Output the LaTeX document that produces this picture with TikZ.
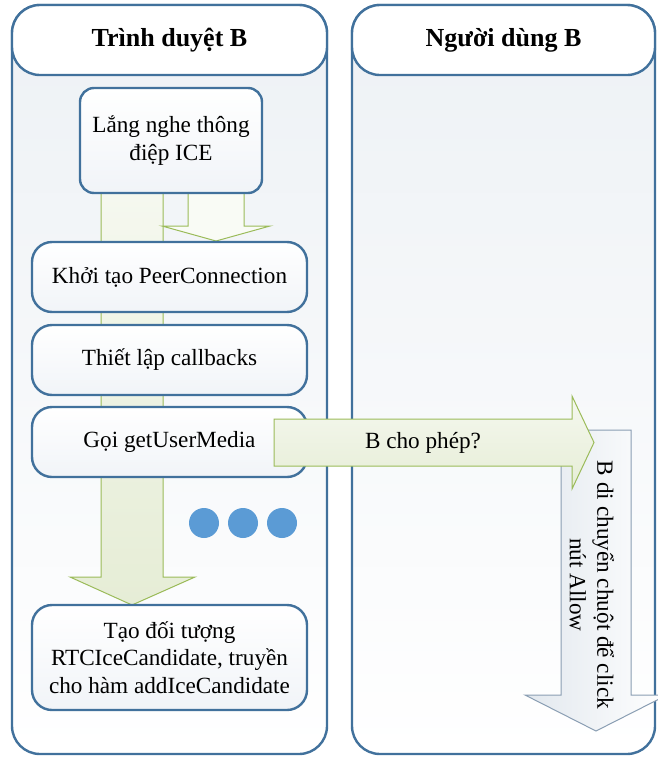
\documentclass[tikz,border=0pt]{standalone}
\usepackage{fontspec}
\setmainfont{Liberation Serif}
\usetikzlibrary{calc}

\definecolor{laneline}{HTML}{41719C}
\definecolor{lanetop}{HTML}{EDF1F5}
\definecolor{boxfill}{HTML}{F1F4F8}
\definecolor{greenline}{HTML}{9BBB59}
\definecolor{greenlight}{HTML}{F5F8EF}
\definecolor{greendark}{HTML}{E6EDD6}
\definecolor{greyline}{HTML}{8A9EB3}
\definecolor{greyfill}{HTML}{E2E8EE}
\definecolor{dotblue}{HTML}{5B9BD5}

\tikzset{
  lane/.style={draw=laneline, line width=2.4pt, rounded corners=28pt,
    top color=lanetop, bottom color=white, inner sep=0pt},
  header/.style={draw=laneline, line width=2.4pt, rounded corners=28pt,
    fill=white, inner sep=0pt, font=\fontsize{26}{31}\selectfont\bfseries},
  stepbox/.style={draw=laneline, line width=2.4pt, rounded corners=20pt,
    top color=white, bottom color=boxfill, align=center, inner sep=0pt,
    font=\fontsize{23.2}{27.5}\selectfont},
  greenarrow/.style={draw=greenline, line width=1pt, top color=greenlight,
    bottom color=greendark},
  palearrow/.style={draw=greenline, line width=1pt, fill=greenlight!60!white},
  greyarrow/.style={draw=greyline, line width=1pt, left color=greyfill,
    right color=white},
  dot/.style={circle, fill=dotblue, minimum size=30pt, inner sep=0pt},
  label/.style={font=\fontsize{23.2}{27.5}\selectfont, align=center, inner sep=0pt}
}

\begin{document}
\begin{tikzpicture}[x=1pt, y=-1pt]
\useasboundingbox (0,0) rectangle (657,758);

% swimlanes
\node[lane, minimum width=315pt, minimum height=749pt] (laneA) at (169.5,379.5) {};
\node[lane, minimum width=303pt, minimum height=749pt] (laneB) at (503.5,379.5) {};
\node[header, minimum width=315pt, minimum height=70pt] (headA) at (169.5,40) {Trình duyệt B};
\node[header, minimum width=303pt, minimum height=70pt] (headB) at (503.5,40) {Người dùng B};

% long block arrow down the browser lane
\draw[greenarrow] (101,193) -- (101,577) -- (70,577) -- (132,605) -- (195,577)
  -- (163,577) -- (163,193) -- cycle;
% short block arrow into the first step
\draw[palearrow] (188,193) -- (188,226) -- (162,226) -- (216,241) -- (270,226)
  -- (244,226) -- (244,193) -- cycle;

% steps
\node[stepbox, rounded corners=14pt, minimum width=182pt, minimum height=105pt]
  (listen) at (171,140.5) {Lắng nghe thông\\điệp ICE};
\node[stepbox, minimum width=275pt, minimum height=70pt] (init) at (169.5,277) {Khởi tạo PeerConnection};
\node[stepbox, minimum width=275pt, minimum height=70pt] (setup) at (169.5,360) {Thiết lập callbacks};
\node[stepbox, minimum width=275pt, minimum height=70pt] (media) at (169.5,442) {Gọi getUserMedia};
\node[stepbox, minimum width=275pt, minimum height=105pt] (create) at (169.5,657.5)
  {Tạo đối tượng\\RTCIceCandidate, truyền\\cho hàm addIceCandidate};

% ellipsis dots
\node[dot] (d1) at (204,523) {};
\node[dot] (d2) at (243,523) {};
\node[dot] (d3) at (282,523) {};

% user action arrow
\draw[greyarrow] (561,430) -- (561,695) -- (525,695) -- (596,731) -- (667,695)
  -- (631,695) -- (631,430) -- cycle;
\node[label, rotate=-90] (action) at (592,585) {B di chuyển chuột để click\\nút Allow};

% permission request arrow
\draw[greenarrow] (274,419) -- (572,419) -- (572,396) -- (594,442.5) -- (572,489)
  -- (572,466) -- (274,466) -- cycle;
\node[label] (ask) at (423,442.5) {B cho phép?};
\end{tikzpicture}
\end{document}
